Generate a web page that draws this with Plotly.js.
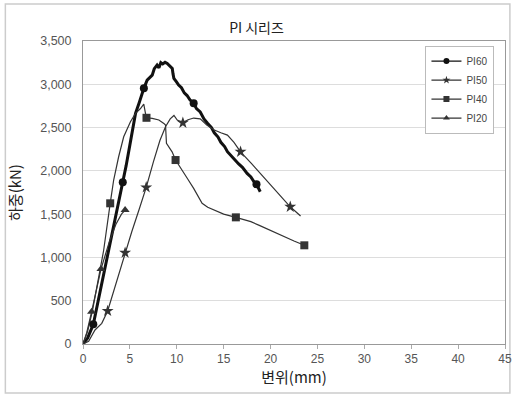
<!DOCTYPE html>
<html><head><meta charset="utf-8">
<script src="https://cdn.plot.ly/plotly-3.0.1.min.js"></script>
<style>html,body{margin:0;padding:0;background:#fff;}#chart{width:513px;height:398px;}</style>
</head><body><div id="chart"></div>
<script>
// ---- data (displacement mm, load kN) ----
const seriesNames = ["PI60", "PI50", "PI40", "PI20"];

const pi60X = [0, 0.5, 1.1, 1.7, 2.35, 3.0, 3.6, 4.24, 4.6, 5.0, 5.3, 5.6, 6.0, 6.25, 6.49, 6.84, 7.1, 7.38, 7.6, 7.9, 8.1, 8.3, 8.5, 8.75, 8.98, 9.2, 9.52, 9.6, 9.69, 9.95, 10.2, 10.5, 10.8, 11.1, 11.4, 11.8, 12.1, 12.5, 12.9, 13.3, 13.7, 14.0, 14.4, 14.7, 15.1, 15.4, 15.8, 16.2, 16.6, 17.0, 17.5, 17.9, 18.2, 18.5, 18.9];
const pi60Y = [0, 70, 227, 540, 866, 1200, 1530, 1867, 2060, 2300, 2500, 2664, 2790, 2880, 2953, 3048, 3080, 3106, 3180, 3222, 3190, 3250, 3235, 3255, 3241, 3215, 3183, 3120, 3068, 3030, 2991, 2960, 2900, 2870, 2820, 2780, 2720, 2680, 2600, 2548, 2500, 2440, 2390, 2330, 2280, 2221, 2170, 2130, 2080, 2040, 1971, 1930, 1880, 1846, 1759];

const pi50X = [0, 0.6, 1.28, 2.0, 2.63, 3.5, 4.49, 5.2, 6.0, 6.74, 7.5, 8.2, 8.8, 9.3, 9.7, 10.05, 10.65, 11.2, 11.8, 12.5, 13.2, 14.0, 14.7, 15.4, 16.1, 16.8, 18.0, 19.5, 20.8, 22.1, 23.2];
const pi50Y = [0, 30, 162, 239, 381, 700, 1054, 1297, 1560, 1809, 2100, 2350, 2510, 2600, 2640, 2587, 2555, 2590, 2610, 2600, 2530, 2471, 2440, 2413, 2330, 2220, 2080, 1900, 1740, 1585, 1478];

const pi40X = [0, 0.5, 1.0, 1.6, 2.2, 2.9, 3.27, 3.8, 4.34, 5.06, 5.6, 6.13, 6.48, 6.66, 6.77, 7.38, 8.09, 8.62, 8.8, 8.9, 9.5, 9.87, 10.6, 11.2, 11.8, 12.3, 12.7, 13.3, 14.0, 15.0, 16.3, 17.1, 17.9, 18.8, 19.7, 20.5, 21.5, 22.5, 23.6];
const pi40Y = [0, 150, 380, 740, 1080, 1625, 1894, 2163, 2394, 2567, 2664, 2720, 2770, 2664, 2613, 2606, 2587, 2548, 2529, 2317, 2220, 2125, 2009, 1900, 1798, 1700, 1625, 1580, 1547, 1500, 1463, 1440, 1413, 1370, 1324, 1290, 1239, 1190, 1140];

const pi20X = [0, 0.4, 0.92, 1.4, 1.92, 2.8, 3.5, 4.1, 4.49];
const pi20Y = [0, 130, 373, 620, 866, 1180, 1380, 1500, 1547];

// marker positions (sampled points shown with symbols)
const pi60MarkX = [1.1, 4.24, 6.49, 11.8, 18.5];
const pi60MarkY = [227, 1867, 2953, 2780, 1846];
const pi50MarkX = [2.63, 4.49, 6.74, 10.65, 16.8, 22.1];
const pi50MarkY = [381, 1054, 1809, 2555, 2220, 1585];
const pi40MarkX = [2.9, 6.77, 9.87, 16.3, 23.6];
const pi40MarkY = [1625, 2613, 2125, 1463, 1140];
const pi20MarkX = [0.92, 1.92, 4.49];
const pi20MarkY = [373, 866, 1547];

const xTickVals = [0, 5, 10, 15, 20, 25, 30, 35, 40, 45];
const yTickVals = [0, 500, 1000, 1500, 2000, 2500, 3000, 3500];

// ---- styling ----
const series = [
  {name: seriesNames[0], x: pi60X, y: pi60Y, mx: pi60MarkX, my: pi60MarkY, sym: "circle", size: 8, lw: 3, color: "#111"},
  {name: seriesNames[1], x: pi50X, y: pi50Y, mx: pi50MarkX, my: pi50MarkY, sym: "star", size: 9, lw: 1.2, color: "#333"},
  {name: seriesNames[2], x: pi40X, y: pi40Y, mx: pi40MarkX, my: pi40MarkY, sym: "square", size: 8, lw: 1.2, color: "#333"},
  {name: seriesNames[3], x: pi20X, y: pi20Y, mx: pi20MarkX, my: pi20MarkY, sym: "triangle-up", size: 8, lw: 1.2, color: "#333"}
];

const traces = [];
series.forEach(s => {
  traces.push({x: s.x, y: s.y, type: "scatter", mode: "lines", showlegend: false,
    line: {color: s.color, width: s.lw}, hoverinfo: "skip"});
});
series.forEach(s => {
  traces.push({x: s.mx, y: s.my, type: "scatter", mode: "markers", showlegend: false,
    marker: {symbol: s.sym, size: s.size, color: s.color}});
});
series.forEach(s => {
  traces.push({x: [-100], y: [-100], type: "scatter", mode: "lines+markers", name: s.name,
    line: {color: s.color, width: 1.2}, marker: {symbol: s.sym, size: 6, color: s.color}});
});

const font = '"Liberation Sans", Arial, "Noto Sans CJK KR", sans-serif';
const layout = {
  width: 513, height: 398,
  margin: {l: 83, r: 8, t: 41, b: 54},
  paper_bgcolor: "#fff", plot_bgcolor: "#fff",
  font: {family: font, color: "#444", size: 12},
  title: {text: "PI 시리즈", x: 0.5, xref: "container", y: 0.93, yref: "container", yanchor: "middle",
    font: {family: '"Noto Sans CJK KR", sans-serif', size: 14, color: "#222"}},
  xaxis: {range: [0, 45], tickvals: xTickVals, showgrid: false, zeroline: false,
    showline: true, mirror: true, linecolor: "#999", linewidth: 1,
    ticks: "outside", ticklen: 4, tickcolor: "#aaa",
    tickfont: {size: 12, color: "#555"},
    title: {text: "변위(mm)", standoff: 5, font: {family: '"Noto Sans CJK KR", sans-serif', size: 15, color: "#222"}}},
  yaxis: {range: [0, 3500], tickvals: yTickVals, tickformat: ",d", showgrid: true, gridcolor: "#ddd",
    zeroline: false, showline: true, mirror: true, linecolor: "#999", linewidth: 1,
    ticks: "", ticklabelstandoff: 8,
    tickfont: {size: 12.5, color: "#555"},
    title: {text: "하중(kN)", standoff: 14, font: {family: '"Noto Sans CJK KR", sans-serif', size: 15, color: "#222"}}},
  legend: {x: 0.975, xanchor: "right", y: 0.985, yanchor: "top", bgcolor: "#fff",
    bordercolor: "#bbb", borderwidth: 1, itemwidth: 30, tracegroupgap: 0,
    font: {size: 10, color: "#444"}},
  shapes: [{type: "rect", xref: "paper", yref: "paper", x0: -0.184, x1: 1.0116, y0: -0.1617, y1: 1.122,
    line: {color: "#ccc", width: 1.5}, fillcolor: "rgba(0,0,0,0)", layer: "below"}]
};

Plotly.newPlot("chart", traces, layout, {displayModeBar: false, staticPlot: true});
</script></body></html>
